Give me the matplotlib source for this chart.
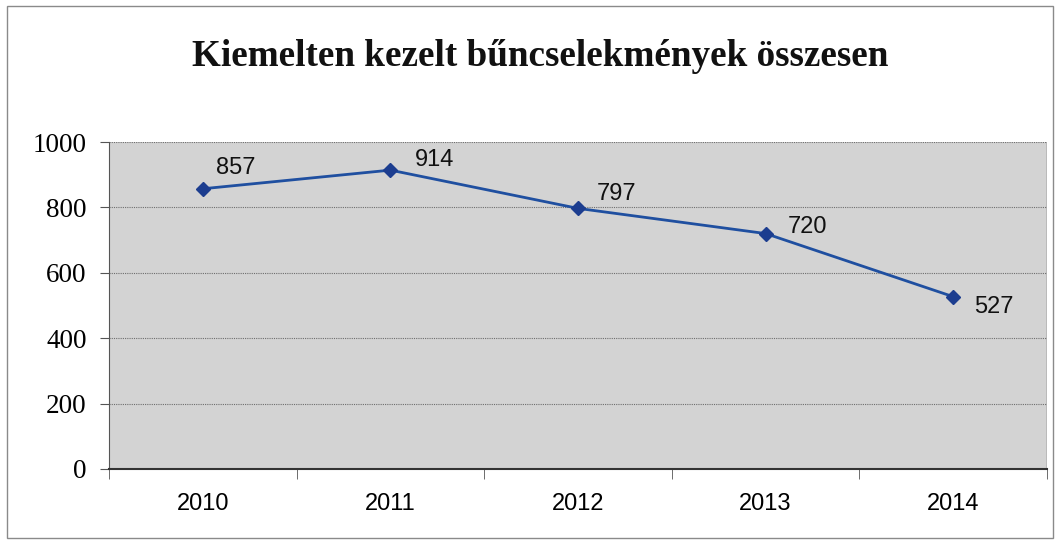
import matplotlib
matplotlib.use("Agg")
import matplotlib.pyplot as plt
from matplotlib.patches import Rectangle

years = ["2010", "2011", "2012", "2013", "2014"]
values = [857, 914, 797, 720, 527]
label_offsets = [(33, 21), (44, 10), (39, 14), (42, 7), (41, -10)]
yticks = [0, 200, 400, 600, 800, 1000]

W, H = 1058, 544
fig = plt.figure(figsize=(W / 100, H / 100), dpi=100)
fig.patch.set_facecolor("white")
fig.patches.append(Rectangle((7 / W, 1 - 538 / H), 1046 / W, 532 / H, transform=fig.transFigure,
                             fill=False, edgecolor="#8a8a8a", linewidth=1.0))

left, right, top, bottom = 109, 1047, 142, 469
ax = fig.add_axes([left / W, 1 - bottom / H, (right - left) / W, (bottom - top) / H])
ax.set_facecolor("#d3d3d3")

x = list(range(len(years)))
ax.plot(x, values, color="#1f4fa0", linewidth=2, marker="D", markersize=7.5,
        markerfacecolor="#1c3d8f", markeredgecolor="#1c3d8f", zorder=3)
for xi, v, (dx, dy) in zip(x, values, label_offsets):
    ax.annotate(str(v), (xi, v), xytext=(dx, dy), textcoords="offset pixels",
                ha="center", va="center", fontsize=17, family="Liberation Sans", color="#111111")

ax.set_xlim(-0.5, len(years) - 0.5)
ax.set_ylim(0, 1000)
ax.set_yticks(yticks)
ax.set_yticklabels([str(t) for t in yticks], family="Liberation Serif", fontsize=19.5)
ax.set_xticks(x)
ax.set_xticklabels(years, family="Liberation Sans", fontsize=17)
ax.tick_params(axis="x", length=0, pad=17)
ax.set_xticks([i + 0.5 for i in range(-1, len(years))], minor=True)
ax.tick_params(axis="x", which="minor", length=7, color="#555555")
ax.tick_params(axis="y", length=6.5, color="#555555", pad=9.5)
ax.grid(axis="y", color="#6e6e6e", linestyle=(0, (1, 1)), linewidth=0.8)
ax.set_axisbelow(True)
for s in ["top", "right"]:
    ax.spines[s].set_visible(False)
ax.spines["left"].set_color("#555555")
ax.spines["bottom"].set_color("#333333")
ax.spines["bottom"].set_linestyle((0, (1, 1)))
ax.spines["bottom"].set_linewidth(1.5)
ax.axvline(len(years) - 0.5, color="#555555", linewidth=1)

fig.text(540 / W, 1 - 56 / H, "Kiemelten kezelt bűncselekmények összesen", ha="center", va="center",
         family="Liberation Serif", fontweight="bold", fontsize=26.7, color="#111111")

fig.savefig("out.png", dpi=100)
